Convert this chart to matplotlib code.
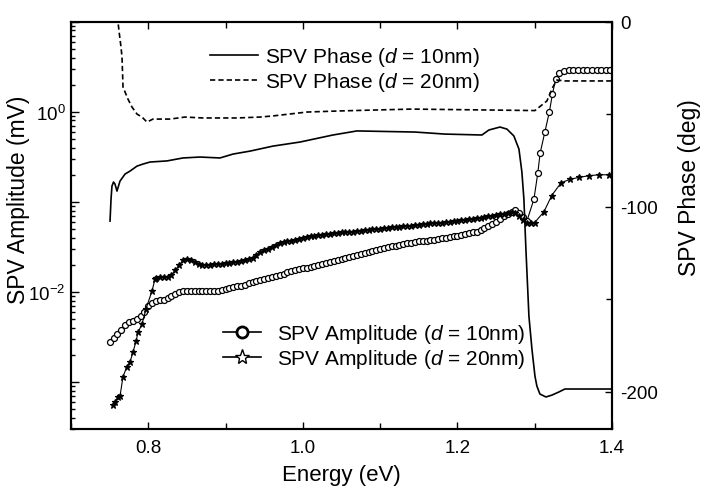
import numpy as np
import matplotlib
matplotlib.use("Agg")
import matplotlib.pyplot as plt
from matplotlib.lines import Line2D
from matplotlib.ticker import FixedLocator, FuncFormatter, MultipleLocator, LogLocator, NullFormatter

plt.rcParams['font.family'] = ['Liberation Sans', 'DejaVu Sans']
plt.rcParams['mathtext.fontset'] = 'custom'
plt.rcParams['mathtext.rm'] = 'Liberation Sans'
plt.rcParams['mathtext.it'] = 'Liberation Sans:italic'
plt.rcParams['axes.unicode_minus'] = False
plt.rcParams['lines.scale_dashes'] = False

# ---------------- data ----------------
# SPV phase, d = 10 nm (deg, right axis)
phase10_E = [0.7505, 0.7518, 0.7530, 0.7550, 0.7569, 0.7595, 0.7634, 0.7699, 0.7763, 0.7854,
             0.7931, 0.8022, 0.8242, 0.8449, 0.8669, 0.8928, 0.9096, 0.9316, 0.9613, 0.9963,
             1.0389, 1.0700, 1.1450, 1.1838, 1.2317, 1.2407, 1.2550, 1.2640, 1.2730, 1.2796,
             1.2834, 1.2860, 1.2886, 1.2925, 1.2964, 1.3003, 1.3028, 1.3067, 1.3145, 1.3222,
             1.3313, 1.3390, 1.4000]
phase10 = [-107.7, -95.8, -88.8, -86.6, -87.7, -91.5, -86.1, -82.3, -80.7, -78.0,
           -76.9, -75.8, -75.2, -73.6, -73.1, -73.6, -71.5, -69.9, -67.2, -65.0,
           -61.2, -59.0, -59.6, -60.7, -61.2, -58.5, -56.9, -58.0, -61.7, -68.8,
           -81.2, -95.8, -122.8, -159.0, -176.8, -191.4, -196.8, -201.1, -202.7, -201.7,
           -200.0, -198.4, -198.4]

# SPV phase, d = 20 nm (deg, right axis)
phase20_E = [0.7600, 0.7621, 0.7647, 0.7660, 0.7673, 0.7737, 0.7789, 0.7854, 0.7918, 0.7983,
             0.8061, 0.8281, 0.8475, 0.8708, 0.9147, 0.9445, 0.9613, 1.0053, 1.0480, 1.0933,
             1.1411, 1.3003, 1.3158, 1.3235, 1.3287, 1.3390, 1.4000]
phase20 = [3.0, -5.0, -13.7, -19.1, -35.3, -41.8, -46.1, -49.9, -51.5, -54.2,
           -52.6, -52.6, -51.5, -52.0, -52.0, -51.5, -50.9, -48.8, -48.2, -47.7,
           -47.2, -48.0, -42.8, -35.3, -31.5, -32.0, -32.0]

# SPV amplitude, d = 10 nm : log10 of amplitude in mV (left axis)
amp10_E = [0.750, 0.755, 0.760, 0.765, 0.770, 0.775, 0.780, 0.785, 0.790, 0.795,
           0.800, 0.805, 0.810, 0.815, 0.820, 0.825, 0.830, 0.835, 0.840, 0.845,
           0.850, 0.855, 0.860, 0.865, 0.870, 0.875, 0.880, 0.885, 0.890, 0.895,
           0.900, 0.905, 0.910, 0.915, 0.920, 0.925, 0.930, 0.935, 0.940, 0.945,
           0.950, 0.955, 0.960, 0.965, 0.970, 0.975, 0.980, 0.985, 0.990, 0.995,
           1.000, 1.005, 1.010, 1.015, 1.020, 1.025, 1.030, 1.035, 1.040, 1.045,
           1.050, 1.055, 1.060, 1.065, 1.070, 1.075, 1.080, 1.085, 1.090, 1.095,
           1.100, 1.105, 1.110, 1.115, 1.120, 1.125, 1.130, 1.135, 1.140, 1.145,
           1.150, 1.155, 1.160, 1.165, 1.170, 1.175, 1.180, 1.185, 1.190, 1.195,
           1.200, 1.205, 1.210, 1.215, 1.220, 1.225, 1.230, 1.235, 1.240, 1.245,
           1.250, 1.255, 1.260, 1.265, 1.270, 1.275, 1.280, 1.285, 1.290,
           1.299, 1.304, 1.307, 1.313, 1.319, 1.323, 1.327, 1.332, 1.338,
           1.344, 1.350, 1.356, 1.362, 1.368, 1.374, 1.380, 1.386, 1.392, 1.398]
amp10_log = [-2.56, -2.51, -2.47, -2.42, -2.37, -2.34, -2.32, -2.30, -2.27, -2.22,
             -2.16, -2.12, -2.10, -2.09, -2.09, -2.07, -2.05, -2.02, -2.00, -1.99,
             -1.99, -1.99, -1.99, -1.99, -1.99, -1.99, -1.99, -1.99, -1.99, -1.98,
             -1.97, -1.96, -1.95, -1.94, -1.93, -1.92, -1.90, -1.89, -1.88, -1.87,
             -1.86, -1.85, -1.84, -1.82, -1.81, -1.80, -1.78, -1.77, -1.76, -1.75,
             -1.74, -1.73, -1.72, -1.71, -1.70, -1.69, -1.68, -1.67, -1.66, -1.65,
             -1.64, -1.62, -1.61, -1.60, -1.59, -1.58, -1.57, -1.56, -1.55, -1.54,
             -1.52, -1.51, -1.50, -1.49, -1.49, -1.48, -1.47, -1.46, -1.46, -1.45,
             -1.44, -1.44, -1.43, -1.42, -1.42, -1.41, -1.40, -1.40, -1.39, -1.38,
             -1.38, -1.37, -1.36, -1.35, -1.34, -1.33, -1.31, -1.29, -1.27, -1.25,
             -1.22, -1.19, -1.16, -1.13, -1.11, -1.09, -1.12, -1.17, -1.21,
             -0.97, -0.68, -0.46, -0.23, 0.00, 0.20, 0.36, 0.43, 0.45,
             0.46, 0.46, 0.46, 0.46, 0.46, 0.46, 0.46, 0.46, 0.46, 0.46]

# SPV amplitude, d = 20 nm : log10 of amplitude in mV (left axis)
amp20_E = [0.7539, 0.7569, 0.7608, 0.7634, 0.7673, 0.7724, 0.7763, 0.7802, 0.7841, 0.7867,
           0.7918, 0.7970, 0.8048, 0.8087,
           0.810, 0.815, 0.820, 0.825, 0.830, 0.835, 0.840, 0.845, 0.850, 0.855,
           0.860, 0.865, 0.870, 0.875, 0.880, 0.885, 0.890, 0.895, 0.900, 0.905,
           0.910, 0.915, 0.920, 0.925, 0.930, 0.935, 0.940, 0.945, 0.950, 0.955,
           0.960, 0.965, 0.970, 0.975, 0.980, 0.985, 0.990, 0.995, 1.000, 1.005,
           1.010, 1.015, 1.020, 1.025, 1.030, 1.035, 1.040, 1.045, 1.050, 1.055,
           1.060, 1.065, 1.070, 1.075, 1.080, 1.085, 1.090, 1.095, 1.100, 1.105,
           1.110, 1.115, 1.120, 1.125, 1.130, 1.135, 1.140, 1.145, 1.150, 1.155,
           1.160, 1.165, 1.170, 1.175, 1.180, 1.185, 1.190, 1.195, 1.200, 1.205,
           1.210, 1.215, 1.220, 1.225, 1.230, 1.235, 1.240, 1.245, 1.250, 1.255,
           1.260, 1.265, 1.270, 1.275, 1.280, 1.285, 1.290, 1.295, 1.300,
           1.312, 1.322, 1.334, 1.3455, 1.357, 1.370, 1.383, 1.396]
amp20_log = [-3.26, -3.22, -3.17, -3.16, -2.94, -2.83, -2.78, -2.67, -2.55, -2.45,
             -2.36, -2.19, -1.99, -1.86,
             -1.85, -1.84, -1.84, -1.83, -1.81, -1.76, -1.70, -1.65, -1.63, -1.65,
             -1.67, -1.69, -1.70, -1.70, -1.70, -1.69, -1.69, -1.69, -1.68, -1.68,
             -1.67, -1.67, -1.66, -1.65, -1.64, -1.62, -1.59, -1.56, -1.54, -1.52,
             -1.50, -1.48, -1.46, -1.45, -1.44, -1.43, -1.42, -1.41, -1.40, -1.39,
             -1.38, -1.38, -1.37, -1.37, -1.36, -1.36, -1.35, -1.35, -1.34, -1.34,
             -1.33, -1.33, -1.32, -1.32, -1.31, -1.31, -1.30, -1.30, -1.30, -1.29,
             -1.29, -1.28, -1.28, -1.28, -1.27, -1.27, -1.27, -1.26, -1.26, -1.25,
             -1.25, -1.24, -1.24, -1.23, -1.23, -1.22, -1.22, -1.21, -1.21, -1.20,
             -1.20, -1.19, -1.19, -1.18, -1.18, -1.17, -1.16, -1.16, -1.15, -1.14,
             -1.13, -1.12, -1.11, -1.12, -1.16, -1.20, -1.23, -1.23, -1.23,
             -1.11, -0.93, -0.79, -0.75, -0.73, -0.71, -0.70, -0.70]

label_p10 = 'SPV Phase ($d$ = 10nm)'
label_p20 = 'SPV Phase ($d$ = 20nm)'
label_a10 = 'SPV Amplitude ($d$ = 10nm)'
label_a20 = 'SPV Amplitude ($d$ = 20nm)'

# ---------------- figure ----------------
fig = plt.figure(figsize=(7.04, 4.89), dpi=100)
ax = fig.add_axes([71/704, 59/489, 541/704, 407.3/489])
ax2 = ax.twinx()

amp10 = 10 ** np.array(amp10_log)
amp20 = 10 ** np.array(amp20_log)

ax.plot(amp10_E, amp10, '-', color='black', lw=0.8, marker='o', ms=4.3,
        mfc='white', mec='black', mew=0.9, zorder=3)
ax.plot(amp20_E, amp20, '-', color='black', lw=0.8, marker='*', ms=4.6,
        mfc='black', mec='black', mew=0.9, zorder=3)

l1, = ax2.plot(phase10_E, phase10, '-', color='black', lw=1.2, label=label_p10)
l2, = ax2.plot(phase20_E, phase20, color='black', lw=1.2, dashes=(3.8, 2.2), label=label_p20)

# axes limits / scales
ax.set_xlim(0.7, 1.4)
ax.set_yscale('log')
ax.set_ylim(3e-4, 10)
ax2.set_ylim(-220, 0)

for a in (ax, ax2):
    for s in a.spines.values():
        s.set_linewidth(1.5)

# x ticks
ax.xaxis.set_major_locator(MultipleLocator(0.2))
ax.xaxis.set_minor_locator(MultipleLocator(0.1))
ax.xaxis.set_major_formatter(FuncFormatter(lambda v, p: f'{v:.1f}'))
ax.tick_params(axis='x', which='both', direction='in', top=True, bottom=True,
               width=1.0, labelsize=13.5, pad=7)
ax.tick_params(axis='x', which='major', length=5)
ax.tick_params(axis='x', which='minor', length=4.5)

# left log axis
ax.yaxis.set_major_locator(FixedLocator([1e-3, 1e-2, 1e-1, 1e0, 1e1]))
ax.yaxis.set_minor_locator(LogLocator(base=10, subs=np.arange(2, 10)))
ax.yaxis.set_minor_formatter(NullFormatter())

def logfmt(v, pos):
    e = int(round(np.log10(v)))
    return f'$10^{{{e}}}$' if e in (0, -2) else ''

ax.yaxis.set_major_formatter(FuncFormatter(logfmt))
ax.tick_params(axis='y', which='both', direction='in', left=True, right=False,
               width=1.0, labelsize=13.5, pad=4)
ax.tick_params(axis='y', which='major', length=5.5)
ax.tick_params(axis='y', which='minor', length=3.2)

# right phase axis
ax2.yaxis.set_major_locator(MultipleLocator(100))
ax2.yaxis.set_minor_locator(MultipleLocator(50))
ax2.yaxis.set_major_formatter(FuncFormatter(lambda v, p: f'{int(round(v))}'))
ax2.tick_params(axis='y', which='both', direction='in', right=True, left=False,
                width=1.0, labelsize=13.5, pad=6)
ax2.tick_params(axis='y', which='major', length=5)
ax2.tick_params(axis='y', which='minor', length=4)

ax.set_xlabel('Energy (eV)', fontsize=16, labelpad=6)
ax.set_ylabel('SPV Amplitude (mV)', fontsize=16.5)
ax.yaxis.set_label_coords(-0.076, 0.565)
ax2.set_ylabel('SPV Phase (deg)', fontsize=16.5)
ax2.yaxis.set_label_coords(1.122, 0.594)

# legends
leg1 = ax2.legend(handles=[l1, l2], loc='center left', bbox_to_anchor=(0.257, 0.884),
                  frameon=False, fontsize=15, handlelength=2.3, handletextpad=0.34,
                  labelspacing=0.1, borderpad=0, borderaxespad=0)
ax2.add_artist(leg1)
h_a10 = Line2D([], [], color='black', lw=1.2, marker='o', ms=8, mfc='white', mec='black', mew=2.0)
h_a20 = Line2D([], [], color='black', lw=1.2, marker='*', ms=11, mfc='white', mec='black', mew=1.0)
leg2 = ax2.legend(handles=[h_a10, h_a20], labels=[label_a10, label_a20], loc='center left',
                  bbox_to_anchor=(0.281, 0.204), frameon=False, fontsize=15,
                  handlelength=1.8, handletextpad=0.8, labelspacing=0.1,
                  borderpad=0, borderaxespad=0)

fig.savefig('out.png', dpi=100)
